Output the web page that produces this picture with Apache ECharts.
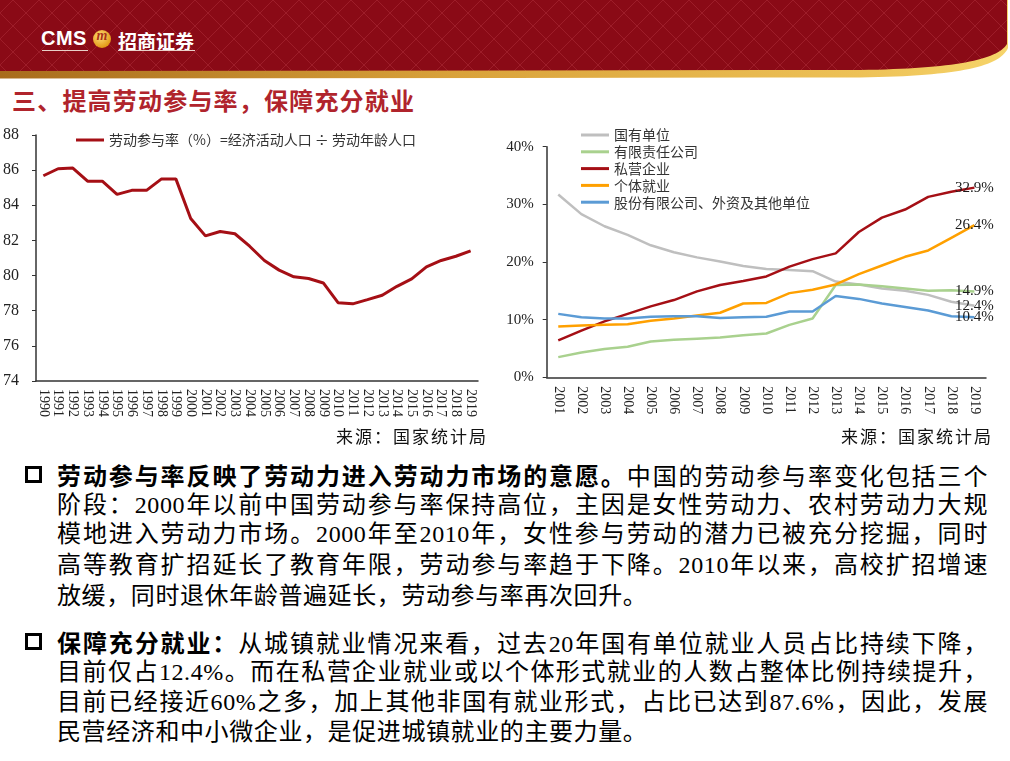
<!DOCTYPE html>
<html><head><meta charset="utf-8">
<script src="https://cdn.jsdelivr.net/npm/echarts@6/dist/echarts.min.js"></script>
<style>
html,body{margin:0;padding:0;background:#fff;width:1010px;height:761px;overflow:hidden;}
#page{position:relative;width:1010px;height:761px;font-family:"Liberation Serif","Noto Sans CJK SC",serif;color:#000;}
#hdr{position:absolute;left:0;top:0;width:1010px;height:80px;}
.logo{position:absolute;color:#fff;font-weight:700;font-family:"Noto Sans CJK SC",sans-serif;}
#title{position:absolute;left:12px;top:84px;font-family:"Noto Sans CJK SC",sans-serif;font-weight:700;font-size:24px;letter-spacing:1.2px;color:#b0242c;line-height:32px;white-space:nowrap;}
.chart{position:absolute;}
.src{position:absolute;font-family:"Noto Sans CJK SC",sans-serif;font-size:17px;letter-spacing:2px;color:#111;white-space:nowrap;line-height:20px;}
.ln{position:absolute;left:57px;width:931px;height:30px;line-height:30px;font-size:24px;letter-spacing:0.6px;white-space:nowrap;text-align:justify;text-align-last:justify;text-justify:inter-character;}
.ln.last{text-align-last:left;}
.b{font-family:"Noto Sans CJK SC",sans-serif;font-weight:700;}
.bul{position:absolute;left:25px;width:11px;height:11px;border:3px solid #000;}
</style></head>
<body><div id="page">
<svg id="hdr" width="1010" height="80" viewBox="0 0 1010 80">
  <defs>
    <linearGradient id="gold" x1="0" y1="0" x2="1" y2="0">
      <stop offset="0" stop-color="#a86c1c"/>
      <stop offset="0.45" stop-color="#d9a23a"/>
      <stop offset="0.85" stop-color="#edc156"/>
      <stop offset="1" stop-color="#f6d46a"/>
    </linearGradient>
    <pattern id="dia" width="26" height="26" patternUnits="userSpaceOnUse">
      <rect width="26" height="26" fill="#8a0a16"/>
      <path d="M13 0 L26 13 L13 26 L0 13 Z" fill="none" stroke="#9d1d29" stroke-width="1"/>
    </pattern>
  </defs>
  <path d="M0,0 H1008 V48 C1000,66 962,76 860,77.5 L0,78.5 Z" fill="url(#gold)"/>
  <path d="M0,0 H1007 V44 C997,60 955,68.5 860,70 L0,71 Z" fill="url(#dia)"/>
</svg>
<div class="logo" style="left:41px;top:27px;font-size:20px;letter-spacing:0.5px;font-family:'Liberation Sans',sans-serif;">CMS</div>
<div style="position:absolute;left:42px;top:50px;width:46px;height:1px;background:#e8d0c8;"></div>
<div style="position:absolute;left:93px;top:30px;width:18px;height:18px;border-radius:50%;background:radial-gradient(circle at 40% 35%,#ffe07a,#e39a18 70%,#b86a0a);"></div>
<div style="position:absolute;left:95px;top:28px;width:14px;font-size:14px;font-style:italic;font-weight:700;color:#a8321a;font-family:'Liberation Serif',serif;text-align:center;">m</div>
<div class="logo" style="left:118px;top:27px;font-size:19px;">招商证券</div>
<div style="position:absolute;left:118px;top:50px;width:77px;height:1px;background:#e8d0c8;"></div>
<div id="title">三、提高劳动参与率，保障充分就业</div>

<div id="c1" class="chart" style="left:0;top:120px;width:500px;height:330px;"></div>
<div id="c2" class="chart" style="left:500px;top:120px;width:510px;height:330px;"></div>
<div class="src" style="left:336px;top:426px;">来源：国家统计局</div>
<div class="src" style="left:841px;top:426px;">来源：国家统计局</div>

<div class="bul" style="top:466px;"></div>
<div class="ln" style="top:460px;"><span class="b">劳动参与率反映了劳动力进入劳动力市场的意愿。</span>中国的劳动参与率变化包括三个</div>
<div class="ln" style="top:490px;">阶段：2000年以前中国劳动参与率保持高位，主因是女性劳动力、农村劳动力大规</div>
<div class="ln" style="top:519px;">模地进入劳动力市场。2000年至2010年，女性参与劳动的潜力已被充分挖掘，同时</div>
<div class="ln" style="top:550px;">高等教育扩招延长了教育年限，劳动参与率趋于下降。2010年以来，高校扩招增速</div>
<div class="ln last" style="top:581px;">放缓，同时退休年龄普遍延长，劳动参与率再次回升。</div>

<div class="bul" style="top:633px;"></div>
<div class="ln" style="top:627px;"><span class="b">保障充分就业：</span>从城镇就业情况来看，过去20年国有单位就业人员占比持续下降，</div>
<div class="ln" style="top:657px;">目前仅占12.4%。而在私营企业就业或以个体形式就业的人数占整体比例持续提升，</div>
<div class="ln" style="top:687px;">目前已经接近60%之多，加上其他非国有就业形式，占比已达到87.6%，因此，发展</div>
<div class="ln last" style="top:717px;">民营经济和中小微企业，是促进城镇就业的主要力量。</div>
</div>
<script>
// ---- Left chart data ----
const lfprYears = ['1990','1991','1992','1993','1994','1995','1996','1997','1998','1999','2000','2001','2002','2003','2004','2005','2006','2007','2008','2009','2010','2011','2012','2013','2014','2015','2016','2017','2018','2019'];
const lfprName = '劳动参与率（%）=经济活动人口 ÷ 劳动年龄人口';
const lfprValues = [85.68,86.08,86.12,85.37,85.37,84.62,84.85,84.85,85.49,85.49,83.25,82.26,82.51,82.38,81.67,80.86,80.31,79.93,79.83,79.58,78.46,78.39,78.63,78.88,79.39,79.81,80.50,80.86,81.10,81.41];
const lfprTicks = {min:74, max:88, interval:2};

// ---- Right chart data ----
const empYears = ['2001','2002','2003','2004','2005','2006','2007','2008','2009','2010','2011','2012','2013','2014','2015','2016','2017','2018','2019'];
const empNames = ['国有单位','有限责任公司','私营企业','个体就业','股份有限公司、外资及其他单位'];
const stateOwned   = [31.7,28.3,26.2,24.7,22.9,21.7,20.8,20.1,19.3,18.8,18.6,18.4,16.6,16.1,15.4,15.0,14.3,13.1,12.4];
const limitedCo    = [3.5,4.3,4.9,5.3,6.2,6.5,6.7,6.9,7.3,7.6,9.1,10.2,16.0,16.1,15.8,15.4,15.0,15.1,14.9];
const privateEnt   = [6.4,8.1,9.7,11.0,12.3,13.4,14.9,16.0,16.7,17.5,19.2,20.5,21.5,25.2,27.7,29.1,31.3,32.2,32.9];
const selfEmployed = [8.8,9.0,9.1,9.2,9.8,10.2,10.7,11.2,12.8,12.9,14.6,15.2,16.1,17.9,19.4,20.9,22.0,24.2,26.4];
const jointStock   = [11.0,10.4,10.2,10.2,10.5,10.6,10.6,10.3,10.4,10.5,11.4,11.4,14.1,13.6,12.8,12.2,11.6,10.6,10.4];
const empColors = ['#bfbfbf','#a9d18e','#a50f15','#ffa000','#5b9bd5'];
const empTicks = {min:0, max:40, interval:10};

const serif = 'Liberation Serif';
const cjk = 'Noto Sans CJK SC';

const c1 = echarts.init(document.getElementById('c1'), null, {renderer:'canvas'});
c1.setOption({
  animation:false,
  grid:{left:34, top:15, width:444, height:246},
  legend:{
    data:[lfprName], left:76, top:13, padding:0, icon:'rect', itemWidth:28, itemHeight:3,
    textStyle:{fontFamily:cjk, fontSize:14, color:'#333', lineHeight:14}
  },
  xAxis:{
    type:'category', data:lfprYears, boundaryGap:true,
    axisLine:{lineStyle:{color:'#333', width:1.5}},
    axisTick:{show:false},
    axisLabel:{rotate:-90, interval:0, margin:8, fontFamily:serif, fontSize:14, color:'#222'}
  },
  yAxis:{
    type:'value', min:lfprTicks.min, max:lfprTicks.max, interval:lfprTicks.interval,
    axisLine:{show:true, lineStyle:{color:'#333', width:1.5}},
    axisTick:{show:true, length:4, lineStyle:{color:'#333'}},
    splitLine:{show:false},
    axisLabel:{margin:17, fontFamily:serif, fontSize:16, color:'#222'}
  },
  series:[{
    name:lfprName, type:'line', data:lfprValues, symbol:'none',
    lineStyle:{color:'#a50f15', width:3}, itemStyle:{color:'#a50f15'}
  }]
});

function lastLabel(arr){
  return arr.map((v,i)=> i===arr.length-1 ? {
    value:v, symbol:'circle', symbolSize:0.1,
    label:{show:true, position:'inside', formatter:v.toFixed(1)+'%', fontFamily:serif, fontSize:15, color:'#1a1a1a'}
  } : v);
}
const empSeriesData = [stateOwned, limitedCo, privateEnt, selfEmployed, jointStock];
const c2 = echarts.init(document.getElementById('c2'), null, {renderer:'canvas'});
c2.setOption({
  animation:false,
  grid:{left:46.7, top:26.7, width:439.3, height:230.6},
  legend:{
    data:empNames, orient:'vertical', left:81, top:8, padding:0, itemGap:2.8,
    icon:'rect', itemWidth:28, itemHeight:3,
    textStyle:{fontFamily:cjk, fontSize:14, color:'#333', lineHeight:14}
  },
  xAxis:{
    type:'category', data:empYears, boundaryGap:true,
    axisLine:{lineStyle:{color:'#333', width:1.5}},
    axisTick:{show:false},
    axisLabel:{rotate:-90, interval:0, margin:9, fontFamily:serif, fontSize:14, color:'#222'}
  },
  yAxis:{
    type:'value', min:empTicks.min, max:empTicks.max, interval:empTicks.interval,
    axisLine:{show:true, lineStyle:{color:'#333', width:1.5}},
    axisTick:{show:true, length:4, lineStyle:{color:'#333'}},
    splitLine:{show:false},
    axisLabel:{margin:13, formatter:'{value}%', fontFamily:serif, fontSize:15, color:'#222'}
  },
  series: empNames.map((n,i)=>({
    name:n, type:'line', data:lastLabel(empSeriesData[i]), symbol:'none', showSymbol:true,
    lineStyle:{color:empColors[i], width:2.5}, itemStyle:{color:empColors[i]},
    z: 2+i
  }))
});
</script>
</body></html>
